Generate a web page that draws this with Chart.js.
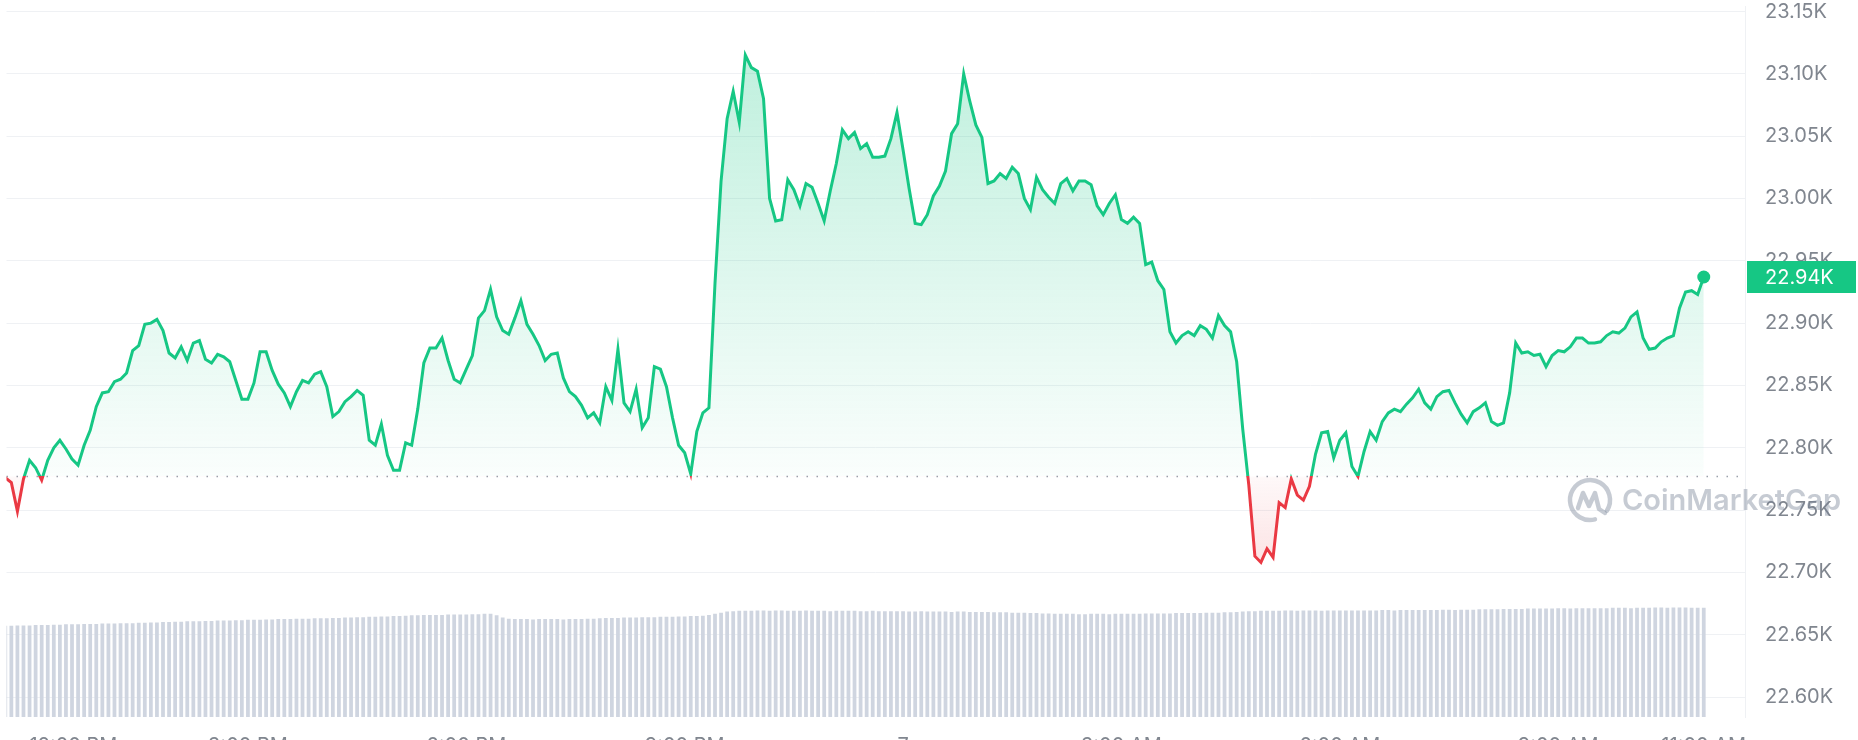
<!DOCTYPE html>
<html>
<head>
<meta charset="utf-8">
<title>BTC price chart</title>
<script src="https://cdn.jsdelivr.net/npm/chart.js@4.4.0/dist/chart.umd.min.js"></script>
<style>
    html, body { margin: 0; padding: 0; background: #ffffff; }
    #wrap { position: relative; width: 1858px; height: 740px; }
</style>
</head>
<body>
<div id="wrap"><canvas id="priceChart"></canvas></div>
<script>
// time axis: minutes counted from 12:00 PM, one sample every 5 minutes
const START_MIN = -20;
const STEP_MIN = 5;
const OPEN_PRICE = 22777; // dotted reference line

const prices = [
    22776, 22772, 22749, 22775, 22790, 22784, 22774, 22790, 22800, 22806,
    22799, 22791, 22786, 22802, 22814, 22833, 22844, 22845, 22853, 22855,
    22860, 22878, 22882, 22899, 22900, 22903, 22894, 22876, 22872, 22881,
    22870, 22884, 22886, 22871, 22868, 22875, 22873, 22869, 22854, 22839,
    22839, 22852, 22877, 22877, 22862, 22851, 22844, 22833, 22845, 22854,
    22852, 22859, 22861, 22849, 22825, 22829, 22837, 22841, 22846, 22842,
    22806, 22802, 22819, 22794, 22782, 22782, 22804, 22802, 22831, 22868,
    22880, 22880, 22888, 22870, 22855, 22852, 22863, 22874, 22904, 22910,
    22927, 22905, 22894, 22891, 22904, 22918, 22899, 22891, 22882, 22870,
    22875, 22876, 22856, 22845, 22841, 22834, 22824, 22828, 22820, 22849,
    22838, 22879, 22836, 22829, 22847, 22816, 22824, 22865, 22863, 22849,
    22824, 22802, 22796, 22779, 22813, 22828, 22832, 22932, 23014, 23064,
    23086, 23061, 23115, 23105, 23102, 23080, 23000, 22982, 22983, 23015,
    23007, 22994, 23012, 23009, 22996, 22982, 23006, 23028, 23055, 23048,
    23053, 23040, 23044, 23033, 23033, 23034, 23048, 23069, 23039, 23008,
    22980, 22979, 22987, 23002, 23010, 23022, 23052, 23060, 23100, 23078,
    23059, 23049, 23012, 23014, 23020, 23016, 23025, 23020, 23000, 22991,
    23017, 23007, 23001, 22996, 23012, 23016, 23006, 23014, 23014, 23011,
    22994, 22987, 22996, 23003, 22983, 22980, 22985, 22980, 22947, 22949,
    22934, 22927, 22893, 22884, 22890, 22893, 22890, 22898, 22895, 22888,
    22906, 22898, 22893, 22869, 22815, 22770, 22713, 22708, 22719, 22712,
    22756, 22752, 22775, 22762, 22758, 22769, 22795, 22812, 22813, 22792,
    22806, 22812, 22785, 22777, 22797, 22813, 22806, 22821, 22828, 22831,
    22829, 22835, 22840, 22847, 22836, 22831, 22841, 22845, 22846, 22836,
    22827, 22820, 22829, 22832, 22836, 22821, 22818, 22820, 22844, 22884,
    22876, 22877, 22874, 22875, 22865, 22874, 22878, 22877, 22881, 22888,
    22888, 22884, 22884, 22885, 22890, 22893, 22892, 22896, 22905, 22909,
    22888, 22879, 22880, 22885, 22888, 22890, 22912, 22925, 22926, 22923,
    22937
];

// 24h volume, billions USD
const volumes = [
    24.4, 24.4, 24.5, 24.5, 24.5, 24.6, 24.6, 24.6, 24.7, 24.7,
    24.8, 24.8, 24.8, 24.9, 24.9, 24.9, 25.0, 25.0, 25.0, 25.1,
    25.1, 25.1, 25.2, 25.2, 25.3, 25.3, 25.4, 25.4, 25.5, 25.5,
    25.6, 25.6, 25.6, 25.7, 25.7, 25.8, 25.8, 25.8, 25.9, 25.9,
    26.0, 26.0, 26.0, 26.1, 26.1, 26.2, 26.2, 26.2, 26.3, 26.3,
    26.3, 26.4, 26.4, 26.4, 26.5, 26.5, 26.6, 26.6, 26.7, 26.7,
    26.8, 26.8, 26.9, 26.9, 27.0, 27.0, 27.1, 27.2, 27.2, 27.3,
    27.3, 27.3, 27.3, 27.4, 27.4, 27.4, 27.4, 27.5, 27.5, 27.6,
    27.6, 27.2, 26.6, 26.3, 26.2, 26.2, 26.2, 26.1, 26.2, 26.2,
    26.2, 26.2, 26.1, 26.2, 26.2, 26.2, 26.3, 26.3, 26.4, 26.5,
    26.5, 26.5, 26.6, 26.6, 26.6, 26.7, 26.7, 26.7, 26.8, 26.8,
    26.8, 26.9, 26.9, 27.0, 27.0, 27.1, 27.3, 27.6, 27.9, 28.2,
    28.3, 28.4, 28.4, 28.4, 28.5, 28.5, 28.4, 28.5, 28.5, 28.4,
    28.4, 28.4, 28.5, 28.4, 28.4, 28.4, 28.3, 28.4, 28.4, 28.4,
    28.4, 28.3, 28.3, 28.4, 28.3, 28.3, 28.3, 28.3, 28.3, 28.2,
    28.2, 28.3, 28.2, 28.2, 28.2, 28.2, 28.1, 28.2, 28.2, 28.1,
    28.1, 28.1, 28.1, 28.0, 28.0, 28.0, 27.9, 27.9, 27.9, 27.8,
    27.8, 27.7, 27.7, 27.6, 27.6, 27.6, 27.6, 27.5, 27.5, 27.6,
    27.6, 27.6, 27.5, 27.6, 27.6, 27.6, 27.6, 27.6, 27.7, 27.7,
    27.7, 27.7, 27.7, 27.8, 27.8, 27.8, 27.8, 27.8, 27.9, 27.9,
    27.9, 28.0, 28.0, 28.1, 28.2, 28.3, 28.3, 28.4, 28.4, 28.4,
    28.4, 28.5, 28.5, 28.4, 28.5, 28.5, 28.5, 28.4, 28.5, 28.5,
    28.5, 28.5, 28.5, 28.5, 28.5, 28.5, 28.5, 28.6, 28.6, 28.5,
    28.6, 28.6, 28.6, 28.6, 28.6, 28.6, 28.6, 28.7, 28.7, 28.6,
    28.7, 28.7, 28.7, 28.8, 28.8, 28.8, 28.8, 28.9, 28.9, 28.9,
    28.9, 29.0, 29.0, 29.0, 29.0, 29.0, 29.1, 29.1, 29.0, 29.1,
    29.1, 29.1, 29.1, 29.1, 29.1, 29.2, 29.2, 29.2, 29.1, 29.2,
    29.2, 29.2, 29.3, 29.3, 29.2, 29.3, 29.3, 29.3, 29.2, 29.2,
    29.2
];

const timeTicks = [0, 180, 360, 540, 720, 900, 1080, 1260, 1380];
const timeLabels = ['12:00 PM', '3:00 PM', '6:00 PM', '9:00 PM', '7', '3:00 AM', '6:00 AM', '9:00 AM', '11:00 AM'];
const priceTicks = [22600, 22650, 22700, 22750, 22800, 22850, 22900, 22950, 23000, 23050, 23100, 23150];

const GREEN = '#16c784';
const RED = '#ea3943';
const LABEL_COLOR = '#80868f';
const GRID_COLOR = '#eff1f4';

Chart.defaults.font.family = "Inter, 'Noto Sans', sans-serif";

function formatK(v) {
    return (v / 1000).toFixed(2) + 'K';
}

function baseFraction(chart) {
    const { chartArea, scales } = chart;
    const yb = scales.y.getPixelForValue(OPEN_PRICE);
    return Math.min(1, Math.max(0, (yb - chartArea.top) / (chartArea.bottom - chartArea.top)));
}

// green above the opening price, red below it
function lineColor(context) {
    const chart = context.chart;
    if (!chart.chartArea) return GREEN;
    const { top, bottom } = chart.chartArea;
    const f = baseFraction(chart);
    const g = chart.ctx.createLinearGradient(0, top, 0, bottom);
    g.addColorStop(0, GREEN);
    g.addColorStop(f, GREEN);
    g.addColorStop(f, RED);
    g.addColorStop(1, RED);
    return g;
}

function areaColor(context) {
    const chart = context.chart;
    if (!chart.chartArea) return 'rgba(22,199,132,0.1)';
    const { top, bottom } = chart.chartArea;
    const f = baseFraction(chart);
    const g = chart.ctx.createLinearGradient(0, top, 0, bottom);
    g.addColorStop(0, 'rgba(22,199,132,0.30)');
    g.addColorStop(f, 'rgba(22,199,132,0.02)');
    g.addColorStop(f, 'rgba(234,57,67,0.03)');
    g.addColorStop(Math.min(1, f + 0.13), 'rgba(234,57,67,0.15)');
    g.addColorStop(1, 'rgba(234,57,67,0.15)');
    return g;
}

const openLine = {
    id: 'openLine',
    beforeDatasetsDraw(chart) {
        const { ctx, chartArea, scales } = chart;
        const y = Math.round(scales.y.getPixelForValue(OPEN_PRICE)) + 0.5;
        ctx.save();
        ctx.strokeStyle = '#9ba1ab';
        ctx.lineWidth = 1.5;
        ctx.setLineDash([1.5, 8.5]);
        ctx.beginPath();
        ctx.moveTo(chartArea.left, y);
        ctx.lineTo(chartArea.right, y);
        ctx.stroke();
        ctx.restore();
    }
};

const priceTag = {
    id: 'priceTag',
    afterDraw(chart) {
        const { ctx, chartArea, scales, width } = chart;
        const last = prices[prices.length - 1];
        const y = scales.y.getPixelForValue(last);
        ctx.save();
        ctx.fillStyle = GREEN;
        ctx.fillRect(chartArea.right + 2, Math.round(y - 16), width - chartArea.right - 4, 32);
        ctx.fillStyle = '#ffffff';
        ctx.font = "20px Inter, 'Noto Sans', sans-serif";
        ctx.textBaseline = 'middle';
        ctx.textAlign = 'left';
        ctx.fillText(formatK(last), chartArea.right + 20, y + 1);

        // CoinMarketCap watermark
        const cx = 1590, cy = 500;
        ctx.strokeStyle = 'rgba(120,130,150,0.42)';
        ctx.fillStyle = 'rgba(120,130,150,0.42)';
        ctx.lineWidth = 4.5;
        ctx.lineCap = 'round';
        ctx.lineJoin = 'round';
        ctx.beginPath();
        ctx.arc(cx, cy, 20, 0.42 * Math.PI, 2.18 * Math.PI);
        ctx.stroke();
        ctx.beginPath();
        ctx.moveTo(cx - 12, cy + 8);
        ctx.lineTo(cx - 7, cy - 7);
        ctx.lineTo(cx - 1, cy + 6);
        ctx.lineTo(cx + 5, cy - 7);
        ctx.lineTo(cx + 9, cy + 9);
        ctx.lineTo(cx + 15, cy + 13);
        ctx.stroke();
        ctx.font = "600 29px Inter, 'Noto Sans', sans-serif";
        ctx.textBaseline = 'alphabetic';
        ctx.fillText('CoinMarketCap', 1622, 510);
        ctx.restore();
    }
};

const ctx = document.getElementById('priceChart').getContext('2d');

new Chart(ctx, {
    data: {
        datasets: [
            {
                type: 'line',
                label: 'Price',
                data: prices.map((p, i) => ({ x: START_MIN + i * STEP_MIN, y: p })),
                yAxisID: 'y',
                borderColor: lineColor,
                backgroundColor: areaColor,
                borderWidth: 3,
                tension: 0,
                fill: { target: { value: OPEN_PRICE } },
                pointRadius: (c) => c.dataIndex === prices.length - 1 ? 6.5 : 0,
                pointBackgroundColor: GREEN,
                pointBorderColor: GREEN,
                pointBorderWidth: 0,
                order: 1
            },
            {
                type: 'bar',
                label: 'Volume',
                data: volumes.map((v, i) => ({ x: START_MIN + i * STEP_MIN, y: v })),
                yAxisID: 'yVol',
                backgroundColor: '#cfd5e0',
                borderWidth: 0,
                barPercentage: 0.62,
                categoryPercentage: 1,
                order: 2
            }
        ]
    },
    options: {
        responsive: true,
        maintainAspectRatio: false,
        devicePixelRatio: 1,
        animation: false,
        layout: { padding: 0 },
        plugins: {
            legend: { display: false },
            tooltip: { enabled: false }
        },
        scales: {
            x: {
                type: 'linear',
                min: -19,
                max: 1414,
                offset: false,
                grid: { display: false, offset: false },
                border: { display: false },
                afterBuildTicks: (scale) => {
                    // trailing empty tick keeps the 11:00 AM label centred
                    scale.ticks = timeTicks.concat([1414]).map(v => ({ value: v }));
                },
                afterFit: (scale) => {
                    scale.height = 23;
                    scale.paddingLeft = 0;
                    scale.paddingRight = 0;
                },
                ticks: {
                    align: 'inner',
                    autoSkip: false,
                    maxRotation: 0,
                    padding: 9,
                    color: LABEL_COLOR,
                    font: { size: 20 },
                    callback: (value, index) => timeLabels[index] ?? ''
                }
            },
            y: {
                position: 'right',
                min: 22584,
                max: 23154,
                afterBuildTicks: (scale) => {
                    scale.ticks = priceTicks.map(v => ({ value: v }));
                },
                afterFit: (scale) => {
                    scale.width = 113;
                    scale.paddingTop = 0;
                    scale.paddingBottom = 0;
                },
                grid: { color: GRID_COLOR, lineWidth: 1, drawTicks: false },
                border: { display: true, color: GRID_COLOR },
                ticks: {
                    padding: 20,
                    color: LABEL_COLOR,
                    font: { size: 20 },
                    callback: (value) => formatK(value)
                }
            },
            yVol: {
                display: false,
                min: 0,
                max: 190
            }
        }
    },
    plugins: [openLine, priceTag]
});
</script>
</body>
</html>
